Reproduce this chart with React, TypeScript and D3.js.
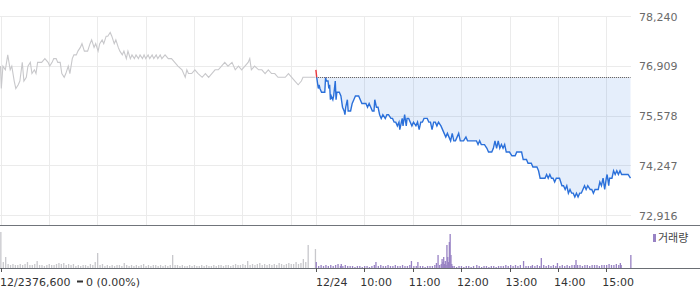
import React from 'react';
import * as d3 from 'd3';

// ---- data ----
const prevDateLabel = '12/23';
const todayDateLabel = '12/24';
const prevClose = 76600;
const priceTicks = [78240, 76909, 75578, 74247, 72916];
const hourLabels = ['10:00', '11:00', '12:00', '13:00', '14:00', '15:00'];
const hourMinutes = [60, 120, 180, 240, 300, 360];
const prevHourMinutes = [0, 60, 120, 180, 240, 300, 360];

// previous day [minute from 09:00, price]
const prevPrices: [number, number][] = [
  [0,76900],[1,76300],[3,76900],[6,76800],[9,77200],[12,76800],[14,76900],[17,76500],[19,76300],[22,76400],
  [24,76500],[27,77000],[29,76500],[32,76600],[34,76900],[37,77000],[39,76700],[42,76800],[44,76700],[46,77000],
  [49,77000],[51,77000],[55,77100],[59,77000],[61,76900],[64,77000],[66,77100],[69,77100],[71,77000],[74,77000],
  [76,76700],[79,76600],[81,76700],[84,76900],[86,76700],[89,77100],[91,77200],[94,77200],[96,77300],[99,77400],
  [101,77500],[104,77300],[106,77300],[108,77300],[111,77500],[113,77600],[116,77400],[118,77500],[121,77300],[123,77500],
  [126,77600],[128,77500],[131,77700],[133,77700],[136,77800],[138,77700],[141,77500],[143,77600],[146,77400],[148,77300],
  [151,77200],[153,77300],[156,77100],[158,77300],[161,77100],[163,77200],[166,77100],[168,77200],[171,77100],[173,77200],
  [176,77100],[178,77200],[180,77100],[183,77200],[185,77100],[188,77200],[190,77100],[193,77200],[195,77100],[198,77200],
  [200,77100],[204,77200],[208,77100],[212,77100],[216,77000],[220,76900],[225,76800],[229,76600],[231,76800],[233,76700],
  [237,76700],[241,76800],[245,76700],[250,76600],[254,76700],[258,76600],[262,76700],[266,76800],[270,76800],[274,76900],
  [278,77000],[282,76900],[287,77000],[291,76800],[295,76900],[299,76800],[303,76900],[307,77000],[309,77100],[311,76800],
  [315,76900],[320,76800],[324,76800],[328,76700],[332,76800],[336,76700],[340,76700],[344,76600],[349,76600],[353,76600],
  [357,76700],[361,76600],[365,76500],[369,76400],[373,76500],[375,76600],[377,76600],[382,76600],[386,76600],[390,76600],
];

// today [minute from 09:00, price]
const todayPrices: [number, number][] = [
  [0,76800],[1,76600],[3,76300],[4,76400],[5,76300],[7,76200],[9,76200],[11,76200],[12,76600],[13,76500],
  [15,76500],[16,76300],[17,76400],[18,76000],[19,76100],[21,76000],[22,76100],[24,76500],[25,76000],[26,76200],
  [29,76200],[31,76100],[33,75800],[35,75700],[36,75600],[37,75800],[39,76000],[40,75700],[43,75700],[45,75900],
  [47,76000],[49,76100],[53,76100],[55,76000],[57,75900],[60,75900],[62,75900],[64,75800],[66,75900],[68,75800],
  [70,75700],[72,75700],[73,76000],[75,75800],[77,75800],[79,75600],[81,75500],[83,75600],[86,75500],[88,75600],
  [90,75600],[93,75500],[95,75500],[97,75400],[99,75400],[101,75300],[103,75400],[104,75200],[106,75400],[107,75500],
  [108,75300],[110,75600],[112,75300],[113,75500],[115,75500],[117,75400],[119,75300],[121,75400],[124,75300],[126,75400],
  [128,75200],[130,75400],[132,75400],[134,75500],[136,75500],[138,75500],[140,75400],[142,75400],[144,75200],[146,75400],
  [148,75400],[150,75300],[152,75400],[155,75300],[157,75200],[159,75100],[161,75000],[163,75100],[165,75000],[167,74900],
  [169,75100],[171,74900],[173,74900],[175,75000],[177,75100],[179,74900],[181,74900],[183,74900],[186,75000],[188,74900],
  [190,74900],[192,74900],[196,74900],[199,74900],[201,74800],[203,74900],[205,74800],[207,74800],[209,74800],[212,74700],
  [214,74600],[216,74600],[218,74600],[220,74700],[222,74900],[224,74700],[226,74900],[228,74700],[230,74800],[232,74700],
  [234,74800],[236,74600],[238,74600],[240,74600],[243,74500],[245,74500],[247,74500],[249,74600],[251,74600],[253,74600],
  [255,74600],[257,74400],[259,74400],[261,74400],[263,74300],[265,74300],[267,74300],[269,74200],[271,74200],[274,74200],
  [276,74100],[278,73900],[280,73900],[282,73900],[284,73900],[286,74000],[288,73900],[290,74000],[292,73900],[294,73900],
  [296,73800],[298,73900],[300,73900],[302,73900],[305,73700],[307,73700],[309,73600],[311,73700],[313,73500],[315,73600],
  [317,73500],[319,73500],[321,73400],[323,73500],[325,73400],[327,73500],[329,73500],[331,73600],[333,73700],[335,73600],
  [337,73700],[340,73600],[342,73600],[344,73500],[346,73600],[348,73600],[350,73600],[352,73800],[354,73700],[356,73900],
  [358,73600],[360,73900],[361,74000],[363,73700],[364,73900],[367,73900],[369,74100],[371,74000],[373,74100],[375,74000],
  [377,74100],[379,74000],[381,74000],[385,74000],[387,74000],[390,73900],
];

// previous day volume per 3-minute bin (relative units)
const prevVolume = [
  360,60,110,40,30,40,30,30,40,30, 40,60,30,30,40,70,30,30,20,30,
  40,30,30,40,50,40,50,30,40,30, 40,20,30,20,30,30,20,40,30,60,
  150,30,40,20,30,20,30,20,30,30, 20,50,30,20,30,20,30,20,30,40,
  20,30,20,30,30,20,30,20,30,20, 30,130,30,30,20,30,20,20,30,20,
  30,20,20,30,20,30,20,20,30,20, 30,30,20,30,30,20,30,40,30,30,
  40,30,70,30,40,30,40,50,30,40, 30,40,30,40,30,50,40,30,40,50,
  40,40,60,40,50,90,60,230,0,0, 190,
];

// today volume [minute from 09:00, volume]
const todayVolume: [number, number][] = [
  [0,60],[3,20],[6,30],[9,20],[12,30],[15,20],[18,30],[21,20],[24,30],[27,40],[30,20],[31,40],[33,20],[36,30],
  [39,20],[42,20],[45,20],[48,10],[51,20],[54,20],[57,10],[60,20],[63,20],[66,10],[69,20],[72,30],[74,60],[77,20],
  [80,30],[83,20],[86,20],[89,30],[92,20],[95,20],[98,30],[101,20],[104,20],[107,30],[110,20],[113,20],[116,30],
  [118,70],[121,20],[124,20],[126,60],[129,20],[132,20],[135,10],[138,20],[141,20],[144,20],[147,30],[149,50],
  [151,130],[153,30],[155,40],[156,90],[157,60],[158,110],[159,40],[160,70],[161,30],[162,230],[163,110],[164,60],
  [165,260],[166,340],[167,130],[168,40],[169,20],[171,20],[174,10],[177,20],[180,20],[183,10],[186,20],[189,20],
  [192,10],[195,20],[199,30],[202,20],[205,10],[208,20],[211,20],[214,10],[217,20],[220,20],[223,10],[226,20],
  [229,20],[232,20],[235,30],[238,20],[241,30],[244,20],[247,30],[250,20],[253,30],[257,70],[260,20],[263,20],
  [266,20],[268,30],[271,20],[274,30],[277,20],[279,100],[282,30],[285,20],[288,30],[291,20],[294,30],[297,20],
  [299,50],[302,20],[305,30],[308,20],[311,30],[314,20],[317,30],[320,30],[322,80],[324,30],[327,30],[330,20],
  [333,30],[336,30],[339,20],[342,30],[345,30],[348,30],[351,20],[354,30],[357,30],[360,30],[363,40],[366,30],
  [369,30],[372,40],[375,30],[377,50],[378,30],[390,130],
];

const TODAY_OFFSET = 391;
const FONT = '"DejaVu Sans", "Noto Sans CJK KR", sans-serif';

export default function App() {
  const W = 700, H = 289;
  const x = d3.scaleLinear().domain([0, 781]).range([0.5, 630.5]);
  const y = d3.scaleLinear().domain([72916, 78240]).range([215, 16]);
  const vy = d3.scaleLinear().domain([0, 360]).range([268, 232]);
  const fmt = d3.format(',');

  const prevLine = d3.line<[number, number]>().x(d => x(d[0])).y(d => y(d[1]))(prevPrices) || '';
  const todayLine = d3.line<[number, number]>().x(d => x(d[0] + TODAY_OFFSET)).y(d => y(d[1]))(todayPrices) || '';
  const todayArea = d3.area<[number, number]>()
    .x(d => x(d[0] + TODAY_OFFSET)).y0(y(prevClose)).y1(d => y(d[1]))(todayPrices) || '';
  const yc = y(prevClose);
  const plotRight = x(781);
  const priceTop = 16, priceBottom = 225, volBase = 268;

  return (
    <svg width={W} height={H} style={{ position: 'absolute', left: 0, top: 0, fontFamily: FONT }}>
      <defs>
        <clipPath id="above"><rect x={0} y={0} width={W} height={yc} /></clipPath>
        <clipPath id="below"><rect x={0} y={yc} width={W} height={priceBottom - yc} /></clipPath>
      </defs>
      <rect x={0} y={0} width={W} height={H} fill="#fff" />
      {/* grid */}
      {priceTicks.map(t => (
        <line key={t} x1={0} x2={plotRight + 0.5} y1={Math.round(y(t)) + 0.5} y2={Math.round(y(t)) + 0.5} stroke="#ebebeb" />
      ))}
      {prevHourMinutes.map(m => (
        <line key={'p' + m} x1={Math.round(x(m)) + 0.5} x2={Math.round(x(m)) + 0.5} y1={priceTop} y2={priceBottom} stroke="#ebebeb" />
      ))}
      {[0, ...hourMinutes].map(m => (
        <line key={'t' + m} x1={Math.round(x(m + TODAY_OFFSET)) + 0.5} x2={Math.round(x(m + TODAY_OFFSET)) + 0.5} y1={priceTop} y2={priceBottom} stroke="#ebebeb" />
      ))}
      {/* fill */}
      <path d={todayArea} fill="rgba(0,90,220,0.1)" clipPath="url(#below)" />
      <path d={todayArea} fill="rgba(230,50,50,0.1)" clipPath="url(#above)" />
      {/* prev close */}
      <line x1={x(TODAY_OFFSET)} x2={plotRight} y1={Math.round(yc) + 0.5} y2={Math.round(yc) + 0.5} stroke="#555" strokeDasharray="1,1" />
      {/* price lines */}
      <path d={prevLine} fill="none" stroke="#c8c8cb" strokeWidth={1.1} />
      <path d={todayLine} fill="none" stroke="#2b70da" strokeWidth={1.4} clipPath="url(#below)" />
      <path d={todayLine} fill="none" stroke="#e8383d" strokeWidth={1.4} clipPath="url(#above)" />
      {/* y labels */}
      {priceTicks.map(t => (
        <text key={'l' + t} x={639} y={y(t) + 4.5} fontSize={11} fill="#6a6a6a">{fmt(t)}</text>
      ))}
      {/* separator */}
      <line x1={0} x2={W} y1={priceBottom + 0.5} y2={priceBottom + 0.5} stroke="#70747a" />
      {/* volume */}
      {prevVolume.map((v, i) => v > 0 ? (
        <rect key={'pv' + i} x={x(i * 3) - 0.3} y={vy(v)} width={1.3} height={volBase - vy(v)} fill="#c8c8cc" />
      ) : null)}
      {todayVolume.map(([m, v]) => (
        <rect key={'tv' + m} x={x(m + TODAY_OFFSET) - 0.3} y={vy(v)} width={1.3} height={volBase - vy(v)} fill="#9882c4" />
      ))}
      <line x1={0} x2={W} y1={volBase + 0.5} y2={volBase + 0.5} stroke="#6a6e74" />
      {/* legend */}
      <rect x={653} y={234} width={3} height={8} fill="#9882c4" />
      <text x={658} y={242} fontSize={11} fill="#444" fontFamily='"Noto Sans CJK KR", sans-serif'>거래량</text>
      {/* x ticks */}
      <line x1={Math.round(x(0)) + 0.5} x2={Math.round(x(0)) + 0.5} y1={volBase} y2={volBase + 4} stroke="#555" />
      {[0, ...hourMinutes].map(m => (
        <line key={'xt' + m} x1={Math.round(x(m + TODAY_OFFSET)) + 0.5} x2={Math.round(x(m + TODAY_OFFSET)) + 0.5} y1={volBase} y2={volBase + 4} stroke="#555" />
      ))}
      <text x={0} y={286} fontSize={11} fill="#333">{prevDateLabel}</text>
      <text x={32} y={286} fontSize={11} fill="#333">{fmt(prevClose)}</text>
      <rect x={77} y={280.5} width={6} height={2} fill="#333" />
      <text x={86} y={286} fontSize={11} fill="#333">0 (0.00%)</text>
      <text x={x(TODAY_OFFSET)} y={286} fontSize={11} fill="#333">{todayDateLabel}</text>
      {hourLabels.map((l, i) => (
        <text key={l} x={x(hourMinutes[i] + TODAY_OFFSET) - 4} y={286} fontSize={11} fill="#333">{l}</text>
      ))}
    </svg>
  );
}
